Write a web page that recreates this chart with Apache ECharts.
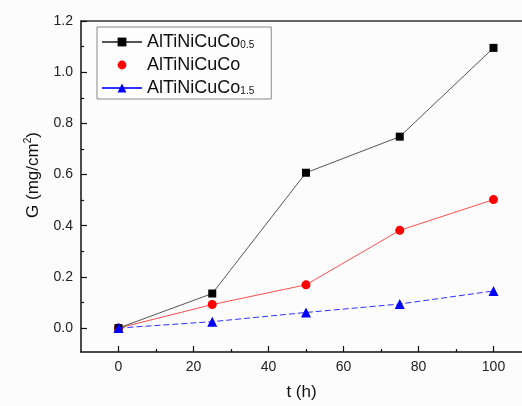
<!DOCTYPE html>
<html>
<head>
<meta charset="utf-8">
<script src="https://cdn.jsdelivr.net/npm/echarts@6/dist/echarts.min.js"></script>
<style>
  html, body { margin: 0; padding: 0; background: #fcfcfc; }
  #chart { width: 522px; height: 406px; }
</style>
</head>
<body>
<div id="chart"></div>
<script>
// values
const hours = [0, 25, 50, 75, 100]
const co05 = [0, 0.135, 0.607, 0.748, 1.095]
const co10 = [0, 0.092, 0.169, 0.382, 0.502]
const co15 = [0, 0.025, 0.061, 0.094, 0.145]

const xMajor = [0, 20, 40, 60, 80, 100]
const xMinor = [10, 30, 50, 70, 90]
const yMajor = [0, 0.2, 0.4, 0.6, 0.8, 1.0, 1.2]
const yMinor = [0.1, 0.3, 0.5, 0.7, 0.9, 1.1]

const labels = {
  s05: '{m|AlTiNiCuCo}{s|0.5}',
  s10: '{m|AlTiNiCuCo}',
  s15: '{m|AlTiNiCuCo}{s|1.5}'
}

const font = 'Liberation Sans, Arial, sans-serif'
// the frame is cut off on the right, so x runs a bit past 100
const xMin = -10
const xMax = 107.6
const yMin = -0.0935
const yMax = 1.2

function pairs(ys) {
  return hours.map((h, i) => [h, ys[i]])
}

function axisPair(dim, min, max, major, minor, fmt) {
  const main = {
    type: 'value',
    min: min,
    max: max,
    position: dim === 'x' ? 'bottom' : 'left',
    axisLine: { show: true, onZero: false, lineStyle: { color: '#111', width: 1.5 } },
    axisTick: { show: true, inside: true, length: 6, customValues: major, lineStyle: { color: '#111', width: 1.2 } },
    axisLabel: { customValues: major, formatter: fmt, color: '#222', fontSize: 14, fontFamily: font, margin: 8 },
    splitLine: { show: false }
  }
  const minorAxis = {
    type: 'value',
    min: min,
    max: max,
    position: dim === 'x' ? 'bottom' : 'left',
    axisLine: { show: false, onZero: false },
    axisTick: { show: true, inside: true, length: 3, customValues: minor, lineStyle: { color: '#111', width: 1.2 } },
    axisLabel: { show: false },
    splitLine: { show: false }
  }
  return [main, minorAxis]
}

const chart = echarts.init(document.getElementById('chart'), null, { renderer: 'canvas' })

const xAxes = axisPair('x', xMin, xMax, xMajor, xMinor, v => String(v))
xAxes[0].name = 't (h)'
xAxes[0].nameLocation = 'middle'
xAxes[0].nameGap = 32
xAxes[0].nameTextStyle = { fontSize: 17, fontFamily: font, color: '#111', padding: [0, 0, 0, 0] }
// top frame line
xAxes.push({
  type: 'value',
  min: xMin,
  max: xMax,
  position: 'top',
  axisLine: { show: true, onZero: false, lineStyle: { color: '#333', width: 1.5 } },
  axisTick: { show: false },
  axisLabel: { show: false },
  splitLine: { show: false }
})

const yAxes = axisPair('y', yMin, yMax, yMajor, yMinor, v => v.toFixed(1))

chart.setOption({
  animation: false,
  backgroundColor: '#fcfcfc',
  grid: {
    left: 81,
    top: 21,
    right: 0,
    bottom: 53
  },
  xAxis: xAxes,
  yAxis: yAxes,
  legend: {
    left: 97,
    top: 27,
    orient: 'vertical',
    itemWidth: 40,
    itemHeight: 11,
    itemGap: 5,
    padding: [6, 17, 2, 4],
    borderColor: '#888',
    borderWidth: 1,
    backgroundColor: '#fdfdfd',
    formatter: name => labels[name],
    textStyle: {
      rich: {
        m: { fontSize: 18, fontFamily: font, color: '#111' },
        s: { fontSize: 10, fontFamily: font, color: '#111', padding: [7, 0, 0, 0] }
      }
    },
    data: [
      { name: 's05' },
      { name: 's10', lineStyle: { opacity: 0 } },
      { name: 's15', lineStyle: { type: 'solid' } }
    ]
  },
  graphic: [{
    type: 'text',
    x: 33,
    y: 175,
    rotation: Math.PI / 2,
    style: {
      text: '{a|G (mg/cm}{b|2}{a|)}',
      align: 'center',
      verticalAlign: 'middle',
      rich: {
        a: { fontSize: 17, fontFamily: font, fill: '#111' },
        b: { fontSize: 10, fontFamily: font, fill: '#111', padding: [0, 0, 9, 0] }
      }
    }
  }],
  series: [
    {
      name: 's05',
      type: 'line',
      data: pairs(co05),
      symbol: 'rect',
      symbolSize: 8,
      itemStyle: { color: '#000' },
      lineStyle: { color: '#555', width: 1 },
      z: 3
    },
    {
      name: 's10',
      type: 'line',
      data: pairs(co10),
      symbol: 'circle',
      symbolSize: 9,
      itemStyle: { color: '#ff0000' },
      lineStyle: { color: '#ff5050', width: 1 },
      z: 2
    },
    {
      name: 's15',
      type: 'line',
      data: pairs(co15),
      symbol: 'triangle',
      symbolSize: 10,
      itemStyle: { color: '#0000ff' },
      lineStyle: { color: '#3030ff', width: 1, type: [6, 3] },
      z: 4
    }
  ]
})
</script>
</body>
</html>
